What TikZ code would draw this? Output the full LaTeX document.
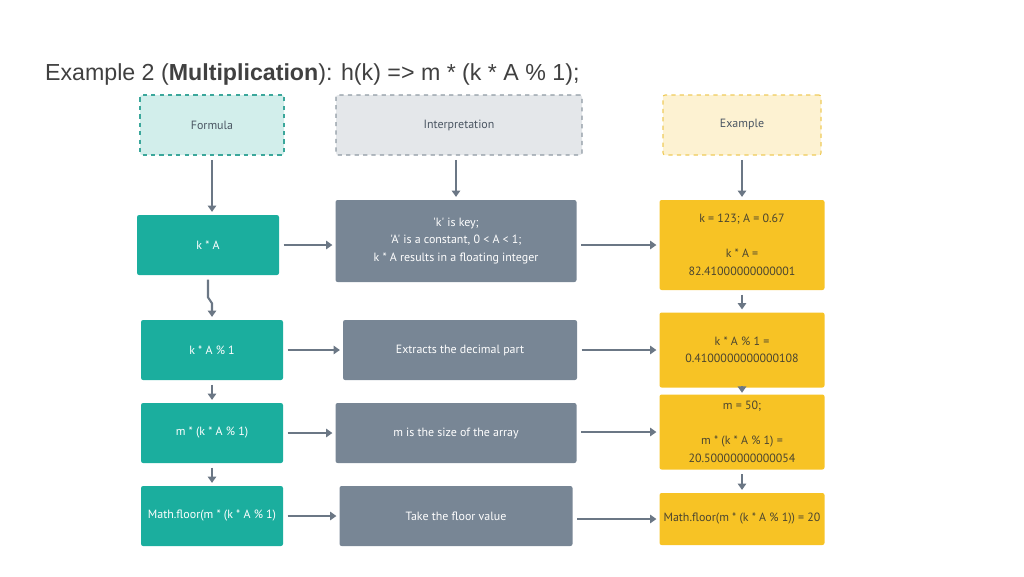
\documentclass[tikz,border=0pt]{standalone}
\usepackage{fontspec}
\setmainfont{Liberation Sans}
\newfontfamily\boxfont{PT Sans}
\usetikzlibrary{arrows.meta}

\definecolor{tealbox}{HTML}{1BAE9E}
\definecolor{slatebox}{HTML}{788695}
\definecolor{goldbox}{HTML}{F7C325}
\definecolor{tealhead}{HTML}{D2EEEB}
\definecolor{tealedge}{HTML}{3BA79B}
\definecolor{slatehead}{HTML}{E4E7EA}
\definecolor{slateedge}{HTML}{8E99A3}
\definecolor{goldhead}{HTML}{FDF2D2}
\definecolor{goldedge}{HTML}{EFCB5A}
\definecolor{flowgray}{HTML}{6B7785}
\definecolor{headtext}{HTML}{4A5562}
\definecolor{goldtext}{HTML}{4B4530}
\definecolor{titletext}{HTML}{404040}

\tikzset{
  card/.style={rectangle, rounded corners=1.5pt, inner sep=0pt, align=center,
    font=\boxfont\fontsize{8.5}{12.5}\selectfont},
  formulabox/.style={card, fill=tealbox, text=white},
  meaningbox/.style={card, fill=slatebox, text=white},
  valuebox/.style={card, fill=goldbox, text=goldtext},
  headbox/.style={card, dashed, line width=0.8pt, text=headtext, minimum height=1.5cm},
  flow/.style={-{Triangle[length=4.5pt,width=6pt]}, draw=flowgray, line width=1.5pt,
    shorten <=3pt, shorten >=2pt}
}

\begin{document}
\begin{tikzpicture}
  \useasboundingbox (0,0) rectangle (25.6,-14.4);

  \node[anchor=west, inner sep=0pt, text=titletext, font=\fontsize{16.5}{19}\selectfont] (title) at(1.12,-1.85)
    {Example 2 (\textbf{Multiplication}): h(k) => m * (k * A \% 1);};

  % column heads
  \node[headbox, fill=tealhead, draw=tealedge, minimum width=3.6cm] (formula) at(5.3,-3.125){Formula};
  \node[headbox, fill=slatehead, draw=slateedge, minimum width=6.15cm] (interpretation) at(11.475,-3.125){Interpretation};
  \node[headbox, fill=goldhead, draw=goldedge, minimum width=3.95cm] (example) at(18.55,-3.125){Example};

  % formula column
  \node[formulabox, minimum width=3.55cm, minimum height=1.5cm] (k-A) at(5.2,-6.125){k * A};
  \node[formulabox, minimum width=3.55cm, minimum height=1.5cm] (k-A-mod) at(5.3,-8.75){k * A \% 1};
  \node[formulabox, minimum width=3.55cm, minimum height=1.5cm] (m-k-A) at(5.3,-10.825){m * (k * A \% 1)};
  \node[formulabox, minimum width=3.55cm, minimum height=1.5cm] (floor) at(5.3,-12.9){Math.floor(m * (k * A \% 1)};

  % interpretation column
  \node[meaningbox, minimum width=6.025cm, minimum height=2.05cm] (key-note) at(11.4,-6.025)
    {'k' is key;\\'A' is a constant, 0 < A < 1;\\k * A results in a floating integer};
  \node[meaningbox, minimum width=5.85cm, minimum height=1.5cm] (decimal-note) at(11.5,-8.75){Extracts the decimal part};
  \node[meaningbox, minimum width=6.025cm, minimum height=1.5cm] (size-note) at(11.4,-10.825){m is the size of the array};
  \node[meaningbox, minimum width=5.825cm, minimum height=1.5cm] (floor-note) at(11.4,-12.9){Take the floor value};

  % example column
  \node[valuebox, minimum width=4.125cm, minimum height=2.25cm] (ex-1) at(18.55,-6.125)
    {k = 123; A = 0.67\\[12.5pt]k * A =\\82.41000000000001};
  \node[valuebox, minimum width=4.125cm, minimum height=1.875cm] (ex-2) at(18.55,-8.75)
    {k * A \% 1 =\\0.4100000000000108};
  \node[valuebox, minimum width=4.125cm, minimum height=1.875cm] (ex-3) at(18.55,-10.8)
    {m = 50;\\[12.5pt]m * (k * A \% 1) =\\20.50000000000054};
  \node[valuebox, minimum width=4.125cm, minimum height=1.3cm] (ex-4) at(18.55,-12.975)
    {Math.floor(m * (k * A \% 1)) = 20};

  % heads to first row
  \draw[flow] (formula) -- (formula.south |- k-A.north);
  \draw[flow] (interpretation.south -| key-note.north) -- (key-note);
  \draw[flow] (example) -- (ex-1);

  % rows
  \draw[flow] (k-A) -- (k-A -| key-note.west);
  \draw[flow] (key-note.east |- ex-1) -- (ex-1);
  \draw[flow] (k-A-mod) -- (decimal-note);
  \draw[flow] (decimal-note) -- (ex-2);
  \draw[flow] (m-k-A) -- (m-k-A -| size-note.west);
  \draw[flow] (size-note.east |- ex-3) -- (ex-3);
  \draw[flow] (floor) -- (floor -| floor-note.west);
  \draw[flow] (floor-note.east |- ex-4) -- (ex-4);

  % down the columns
  \draw[flow] (k-A.south) -- ++(0,-0.55) -- ++(0.1,-0.15) -- (k-A-mod.north);
  \draw[flow] (k-A-mod) -- (m-k-A);
  \draw[flow] (m-k-A) -- (floor);
  \draw[flow] (ex-1) -- (ex-2);
  \draw[flow, shorten <=1pt, shorten >=1pt] (ex-2) -- (ex-3);
  \draw[flow] (ex-3) -- (ex-4);
\end{tikzpicture}
\end{document}
